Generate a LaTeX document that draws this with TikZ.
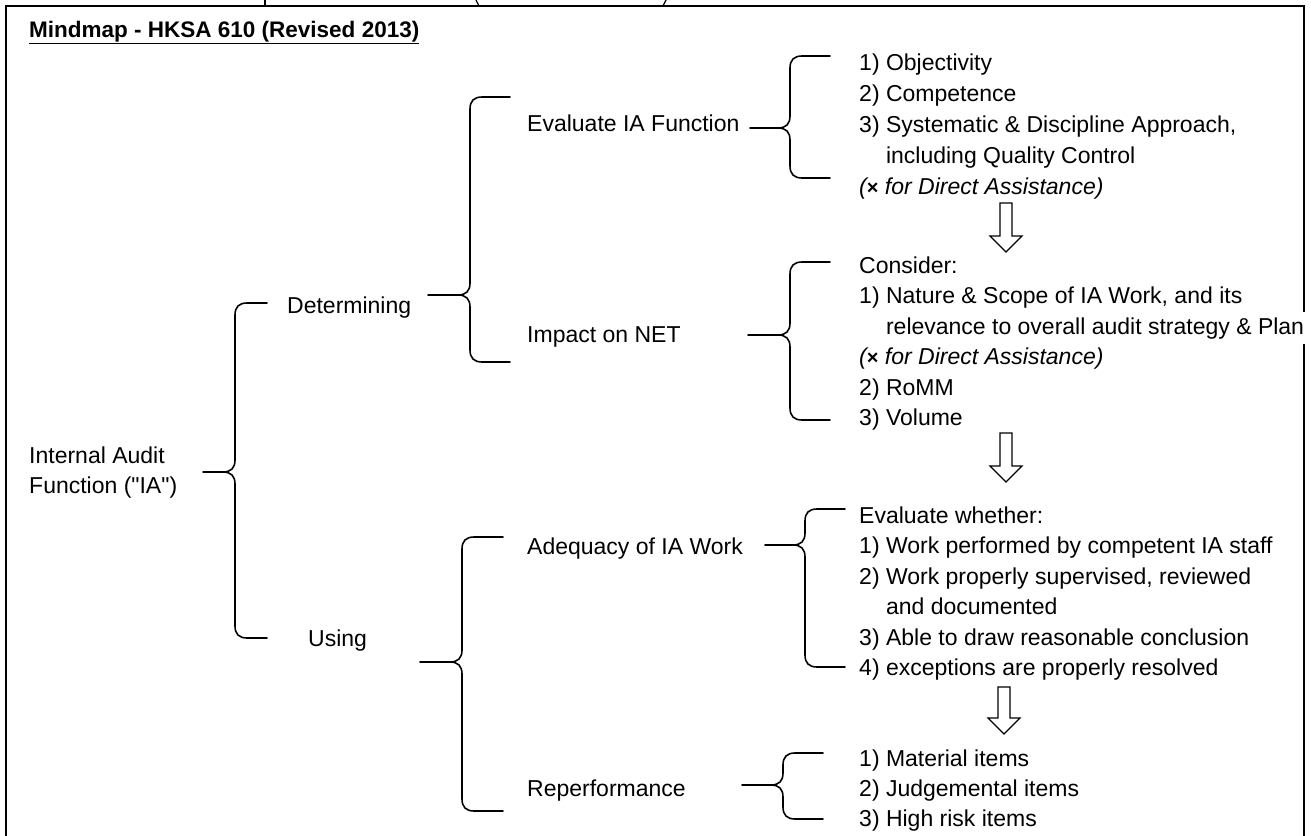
\documentclass[tikz,border=0pt]{standalone}
\usepackage{fontspec}
\setmainfont{Liberation Sans}
\usetikzlibrary{calc}
\newcommand\bodyfont{\fontsize{23}{30.5}\selectfont}
\newcommand\headfont{\fontsize{22.5}{26}\selectfont\bfseries}
\newcommand\xmark{{\upshape\bfseries\fontsize{20}{20}\selectfont ×}}
% brace: E (end x), S (spine x), P (tip x), T (top y), K (tip y), B (bottom y)
\newcommand\cbrace[6]{%
  \draw[brc] (#1,#4) -- ({#2+12},#4) .. controls ({#2+4},#4) and (#2,{#4+4}) .. (#2,{#4+12})
    -- (#2,{#5-12}) .. controls (#2,{#5-4}) and ({#2-4},#5) .. ({#2-12},#5) -- (#3,#5)
    ({#2-12},#5) .. controls ({#2-4},#5) and (#2,{#5+4}) .. (#2,{#5+12})
    -- (#2,{#6-12}) .. controls (#2,{#6-4}) and ({#2+4},#6) .. ({#2+12},#6) -- (#1,#6);}
% hollow down arrow: centre x, top y, head base y, tip y
\newcommand\blockarrow[4]{%
  \draw[blk] ({#1-6},#2) -- ({#1+6},#2) -- ({#1+6},#3) -- ({#1+16},#3) -- (#1,#4)
    -- ({#1-16},#3) -- ({#1-6},#3) -- cycle;}
\begin{document}
\begin{tikzpicture}[x=1pt,y=-1pt,
  txt/.style={anchor=base west, inner sep=0pt, font=\bodyfont},
  brc/.style={line width=1.6pt, line cap=round, line join=round},
  blk/.style={line width=1.2pt, fill=white, line join=miter},
  frm/.style={line width=2.8pt}]
\useasboundingbox (0,0) rectangle (1311,835);
% fragments of cropped content above the frame
\draw[line width=1.2pt] (265,0) -- (265,5);
\draw[line width=1.2pt] (476,0) .. controls (476.5,3) .. (478.5,5);
\draw[line width=1.2pt] (666,0) .. controls (665.5,3) .. (663.5,5);
% frame
\draw[frm] (6,840) -- (6,6) -- (1304,6) -- (1304,840);
% title
\node[txt, font=\headfont] (title) at (29,37.5) {\underline{Mindmap - HKSA 610 (Revised 2013)}};
% root
\node[txt] (ia1) at (29,463) {Internal Audit};
\node[txt] (ia2) at (29,493) {Function (\textquotedbl IA\textquotedbl)};
% level 1
\node[txt] (det) at (287,313) {Determining};
\node[txt] (use) at (308,646) {Using};
% level 2
\node[txt] (evf) at (527,131) {Evaluate IA Function};
\node[txt] (imp) at (527,342) {Impact on NET};
\node[txt] (adq) at (527,554) {Adequacy of IA Work};
\node[txt] (rep) at (527,796) {Reperformance};
% evaluate list
\node[txt] (e1) at (859,70) {1) Objectivity};
\node[txt] (e2) at (859,101) {2) Competence};
\node[txt] (e3) at (859,132) {3) Systematic \& Discipline Approach,};
\node[txt] (e4) at (859,163) {\phantom{3)\ }including Quality Control};
\node[txt] (e5) at (859,194.5) {\itshape (\xmark\ for Direct Assistance)};
% impact list
\node[txt] (c1) at (859,273) {Consider:};
\node[txt] (c2) at (859,303.5) {1) Nature \& Scope of IA Work, and its};
\node[txt, fill=white, inner xsep=2pt, inner ysep=5pt] (c3) at (857,334) {\phantom{1)\ }relevance to overall audit strategy \& Plan};
\node[txt] (c4) at (859,364.5) {\itshape (\xmark\ for Direct Assistance)};
\node[txt] (c5) at (859,395) {2) RoMM};
\node[txt] (c6) at (859,425.5) {3) Volume};
% adequacy list
\node[txt] (a1) at (859,523) {Evaluate whether:};
\node[txt] (a2) at (859,553.5) {1) Work performed by competent IA staff};
\node[txt] (a3) at (859,584) {2) Work properly supervised, reviewed};
\node[txt] (a4) at (859,614.5) {\phantom{2)\ }and documented};
\node[txt] (a5) at (859,645) {3) Able to draw reasonable conclusion};
\node[txt] (a6) at (859,675.5) {4) exceptions are properly resolved};
% reperformance list
\node[txt] (r1) at (859,766) {1) Material items};
\node[txt] (r2) at (859,796) {2) Judgemental items};
\node[txt] (r3) at (859,826) {3) High risk items};
% braces
\cbrace{267}{235}{203}{303}{472}{638}
\cbrace{510}{470}{428}{97}{295}{362}
\cbrace{503}{462}{420}{537}{662}{811}
\cbrace{830}{790}{750}{56}{128}{178}
\cbrace{830}{790}{748}{262}{335}{420}
\cbrace{845}{805}{765}{509}{545}{667}
\cbrace{823}{783}{742}{753}{785}{819}
% arrows
\blockarrow{1006}{203}{236}{252}
\blockarrow{1006}{433}{466}{482}
\blockarrow{1004}{687}{718}{734}
\end{tikzpicture}
\end{document}
